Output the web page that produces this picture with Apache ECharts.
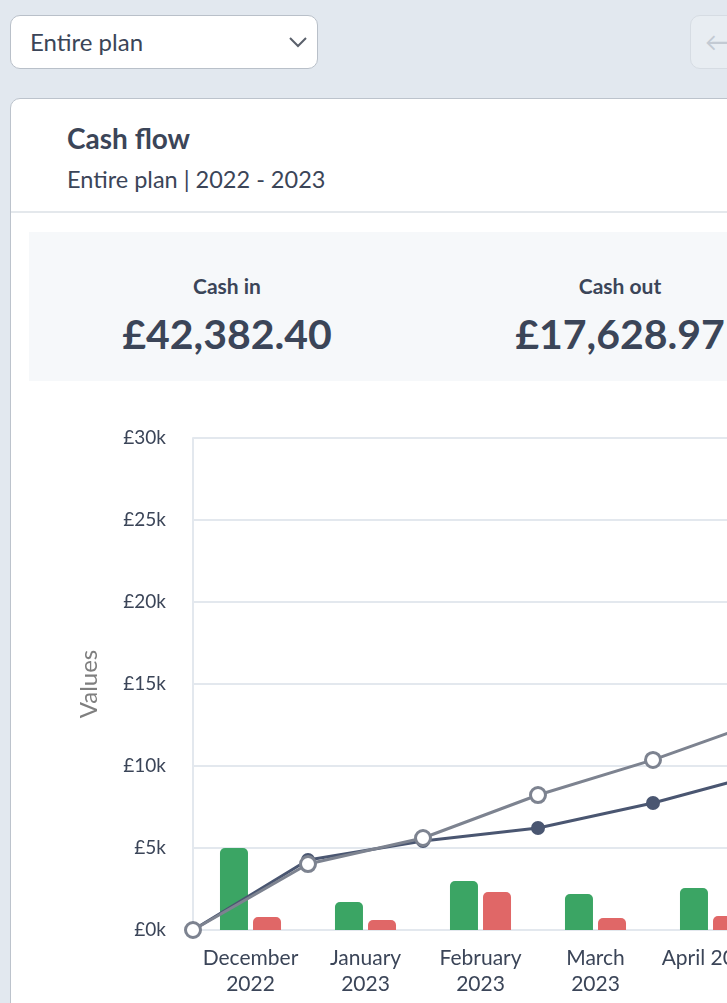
<!DOCTYPE html>
<html>
<head>
<meta charset="utf-8">
<script src="https://cdn.jsdelivr.net/npm/echarts@6/dist/echarts.min.js"></script>
<style>
  html, body { margin:0; padding:0; }
  body { width:727px; height:1003px; overflow:hidden; background:#e2e8ef; position:relative;
         font-family: Lato, "Open Sans", sans-serif; color:#3b4558; }
  .dd { position:absolute; left:10px; top:15px; width:306px; height:52px; background:#fff;
        border:1px solid #b9c0c9; border-radius:10px; }
  .dd span { position:absolute; left:19px; top:0; line-height:52px; font-size:24px; color:#3b4558; }
  .dd svg { position:absolute; left:277px; top:19px; }
  .btn { position:absolute; left:690px; top:15px; width:80px; height:52px; background:#e8edf2;
         border:1px solid #d6dce3; border-radius:10px; }
  .btn span { position:absolute; left:14px; top:0; line-height:50px; font-size:26px; color:#c3cad3; }
  .card { position:absolute; left:10px; top:98px; width:1300px; height:1000px; background:#fff;
          border:1px solid #bcc3cc; border-radius:10px; }
  .title { position:absolute; left:56px; top:22px; font-size:28px; font-weight:700; color:#3b4558; }
  .sub { position:absolute; left:56px; top:66px; font-size:23.5px; color:#3b4558; }
  .divider { position:absolute; left:0; top:112px; width:100%; height:2px; background:#e4e8ec; }
  .summary { position:absolute; left:18px; top:133px; width:1300px; height:149px; background:#f6f8fa; }
  .stat { position:absolute; top:0; width:396px; text-align:center; }
  .stat .lbl { position:absolute; top:41px; width:100%; font-size:21px; font-weight:700; color:#3b4558; }
  .stat .val { position:absolute; top:77px; width:100%; font-size:41px; font-weight:700; color:#3b4558; }
  #chart { position:absolute; left:0; top:400px; width:1000px; height:640px; }
</style>
</head>
<body>
<div class="dd"><span>Entire plan</span>
  <svg width="20" height="14" viewBox="0 0 20 14"><polyline points="2,3 10,11 18,3" fill="none" stroke="#5a606b" stroke-width="2"/></svg>
</div>
<div class="btn"><span>&#8592;</span></div>
<div class="card">
  <div class="title">Cash flow</div>
  <div class="sub">Entire plan | 2022 - 2023</div>
  <div class="divider"></div>
  <div class="summary">
    <div class="stat" style="left:0"><div class="lbl">Cash in</div><div class="val">£42,382.40</div></div>
    <div class="stat" style="left:393px"><div class="lbl">Cash out</div><div class="val">£17,628.97</div></div>
  </div>
</div>
<div id="chart"></div>
<script>
const months = ["December\n2022", "January\n2023", "February\n2023", "March\n2023", "April 2023"];
const cashIn = [5000, 1710, 2990, 2200, 2560];
const cashOut = [790, 610, 2320, 730, 850];
// cumulative lines plotted at month boundaries (start + end of each month)
const boundaries = ["", "", "", "", "", ""];
const cumulativeNet = [0, 4270, 5430, 6220, 7740, 9630];
const cumulativeForecast = [0, 4020, 5610, 8230, 10370, 12870];
const yTicks = [0, 5000, 10000, 15000, 20000, 25000, 30000];

const chart = echarts.init(document.getElementById('chart'));
const txt = '#3b4558';
chart.setOption({
  animation: false,
  textStyle: { fontFamily: 'Lato' },
  grid: { left: 193, top: 38, width: 575, height: 492 },
  xAxis: [
    { type: 'category', data: months, boundaryGap: true,
      axisLine: { lineStyle: { color: '#e3e8ee', width: 2 } }, axisTick: { show: false },
      axisLabel: { interval: 0, color: txt, fontSize: 21, lineHeight: 26, margin: 15, fontFamily: 'Lato',
        verticalAlign: 'top' } },
    { type: 'category', data: boundaries, boundaryGap: false, show: false }
  ],
  yAxis: {
    type: 'value', min: yTicks[0], max: yTicks[yTicks.length - 1], interval: 5000,
    name: 'Values', nameLocation: 'middle', nameRotate: 90, nameGap: 92,
    nameTextStyle: { color: '#7f7f7f', fontSize: 24, fontFamily: 'Lato' },
    axisLine: { show: true, lineStyle: { color: '#e3e8ee', width: 2 } }, axisTick: { show: false },
    axisLabel: { color: txt, fontSize: 19, margin: 27, fontFamily: 'Lato',
      formatter: v => '£' + (v / 1000) + 'k' },
    splitLine: { lineStyle: { color: '#e3e8ee', width: 2 } }
  },
  series: [
    { name: 'Cash in', type: 'bar', data: cashIn, barWidth: 28, barGap: '18%',
      itemStyle: { color: '#3ba564', borderRadius: [5, 5, 0, 0] } },
    { name: 'Cash out', type: 'bar', data: cashOut, barWidth: 28,
      itemStyle: { color: '#e06767', borderRadius: [5, 5, 0, 0] } },
    { name: 'Cumulative cash flow', type: 'line', xAxisIndex: 1, data: cumulativeNet,
      symbol: 'circle', symbolSize: 14, showAllSymbol: true,
      lineStyle: { color: '#4a5671', width: 3 }, itemStyle: { color: '#4a5671' } },
    { name: 'Forecast cash flow', type: 'line', xAxisIndex: 1, data: cumulativeForecast,
      symbol: 'circle', symbolSize: 15, showAllSymbol: true,
      lineStyle: { color: '#7d8390', width: 3 },
      itemStyle: { color: '#ffffff', borderColor: '#7d8390', borderWidth: 3 } }
  ]
});
</script>
</body>
</html>
